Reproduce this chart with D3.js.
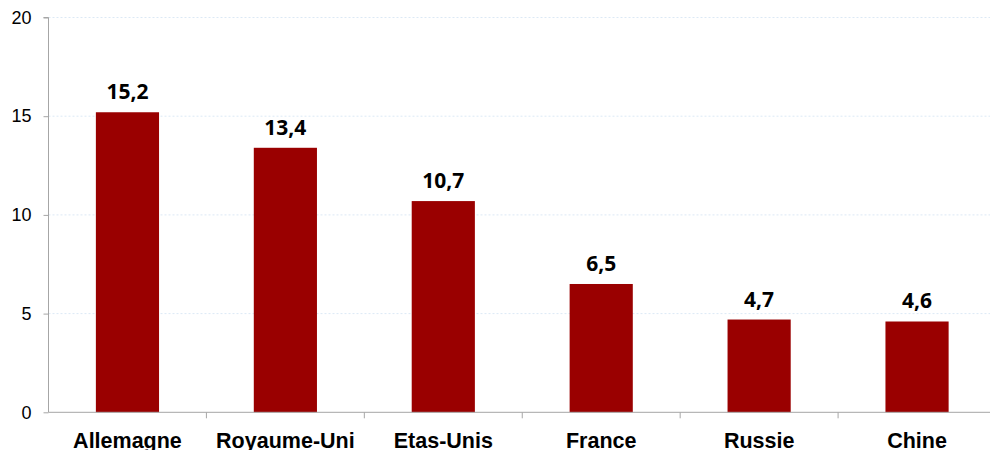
<!DOCTYPE html>
<html><head><meta charset="utf-8">
<script src="https://cdn.jsdelivr.net/npm/d3@7"></script>
<style>body{margin:0;background:#fff}svg{display:block}</style>
</head><body>
<svg id="c" width="990" height="450"></svg>
<script>
const categories = ["Allemagne","Royaume-Uni","Etas-Unis","France","Russie","Chine"];
const values = [15.2, 13.4, 10.7, 6.5, 4.7, 4.6];
const yTicks = [0, 5, 10, 15, 20];

const svg = d3.select("#c");
const x0 = 48.5, x1 = 996, yTop = 17.5, yBot = 412.3;
const x = d3.scaleBand().domain(categories).range([x0, x1]).paddingInner(0.6).paddingOuter(0.3);
const y = d3.scaleLinear().domain([0, 20]).range([yBot, yTop]);

// gridlines
svg.append("g").selectAll("line").data(yTicks.filter(t => t > 0)).join("line")
  .attr("x1", x0).attr("x2", 990).attr("y1", d => y(d)).attr("y2", d => y(d))
  .attr("stroke", "#dce9f5").attr("stroke-dasharray", "2,2").attr("stroke-width", 1);

// bars
svg.append("g").selectAll("rect").data(values).join("rect")
  .attr("x", (d, i) => x(categories[i])).attr("width", x.bandwidth())
  .attr("y", d => y(d)).attr("height", d => y(0) - y(d))
  .attr("fill", "#9a0000");

// value labels
svg.append("g").selectAll("text").data(values).join("text")
  .attr("x", (d, i) => x(categories[i]) + x.bandwidth() / 2)
  .attr("y", d => y(d) - 13)
  .attr("text-anchor", "middle")
  .attr("font-family", "'Open Sans', sans-serif").attr("font-weight", "bold").attr("font-size", 21)
  .attr("fill", "#000")
  .text(d => d.toString().replace(".", ","));

// y axis
const yAxis = d3.axisLeft(y).tickValues(yTicks).tickSize(5).tickPadding(12);
const gy = svg.append("g").attr("transform", `translate(${x0},0)`).call(yAxis);
gy.select(".domain").attr("stroke", "#a6a6a6").attr("d", `M-5,${yTop}H0V${yBot}`);
gy.selectAll(".tick line").attr("stroke", "#a6a6a6");
gy.selectAll(".tick text").attr("font-family", "'Liberation Sans', Arial, sans-serif").attr("font-size", 18).attr("fill", "#000");

// x axis
const step = (x1 - x0) / categories.length;
const xAxis = d3.axisBottom(x).tickSize(0).tickPadding(20);
const gx = svg.append("g").attr("transform", `translate(0,${yBot})`).call(xAxis);
gx.select(".domain").attr("stroke", "#a6a6a6").attr("d", `M${x0},0H${x1}`);
gx.selectAll(".tick text").attr("font-family", "'Liberation Sans', Arial, sans-serif").attr("font-weight", "bold").attr("font-size", 21.5).attr("fill", "#000");
// category boundary ticks
gx.append("g").selectAll("line").data(d3.range(1, categories.length)).join("line")
  .attr("x1", i => x0 + i * step).attr("x2", i => x0 + i * step)
  .attr("y1", 0).attr("y2", 6).attr("stroke", "#a6a6a6");
</script>
</body></html>
